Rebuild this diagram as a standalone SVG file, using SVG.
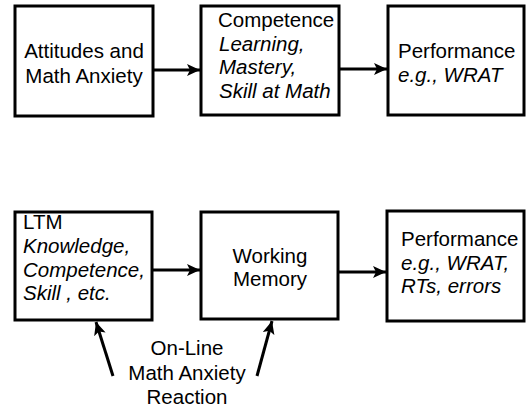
<svg xmlns="http://www.w3.org/2000/svg" width="526" height="408" viewBox="0 0 526 408">
<style>
.box{fill:#fff;stroke:#000;stroke-width:3}
.t{font-family:"Liberation Sans",Arial,sans-serif;font-size:20.5px;fill:#000}
.i{font-style:italic}
.c{text-anchor:middle}
.ln{stroke:#000;stroke-width:3;fill:none}
</style>
<defs>
<marker id="ah" markerUnits="userSpaceOnUse" markerWidth="14" markerHeight="12" refX="13" refY="6" orient="auto">
<polygon points="0,0 13,6 0,12 3,6" fill="#000"/>
</marker>
</defs>
<rect width="526" height="408" fill="#fff"/>
<g id="connectors">
<line class="ln" x1="153" y1="70" x2="200" y2="70" marker-end="url(#ah)"/>
<line class="ln" x1="339" y1="69" x2="387" y2="69" marker-end="url(#ah)"/>
<line class="ln" x1="152" y1="270" x2="200" y2="270" marker-end="url(#ah)"/>
<line class="ln" x1="338" y1="272" x2="386" y2="272" marker-end="url(#ah)"/>
<line class="ln" x1="113" y1="376" x2="96" y2="322" marker-end="url(#ah)"/>
<line class="ln" x1="257" y1="376" x2="272" y2="321" marker-end="url(#ah)"/>
</g>
<g id="attitudes">
<rect class="box" x="15" y="6" width="138" height="110"/>
<text class="t c" x="84" y="58">Attitudes and</text>
<text class="t c" x="84" y="83">Math Anxiety</text>
</g>
<g id="competence">
<rect class="box" x="201" y="6" width="138" height="109"/>
<text class="t" x="218" y="27">Competence</text>
<text class="t i" x="219" y="50.7">Learning,</text>
<text class="t i" x="219" y="74.3">Mastery,</text>
<text class="t i" x="219" y="98">Skill at Math</text>
</g>
<g id="performance1">
<rect class="box" x="388" y="6" width="136" height="109"/>
<text class="t" x="398" y="58">Performance</text>
<text class="t i" x="398" y="82">e.g., WRAT</text>
</g>
<g id="ltm">
<rect class="box" x="15" y="212" width="137" height="108"/>
<text class="t" x="23" y="229">LTM</text>
<text class="t i" x="23" y="253">Knowledge,</text>
<text class="t i" x="23" y="277">Competence,</text>
<text class="t i" x="23" y="300">Skill , etc.</text>
</g>
<g id="working-memory">
<rect class="box" x="201" y="212" width="137" height="107"/>
<text class="t c" x="270" y="263">Working</text>
<text class="t c" x="270" y="286">Memory</text>
</g>
<g id="performance2">
<rect class="box" x="387" y="211" width="137" height="110"/>
<text class="t" x="401" y="246">Performance</text>
<text class="t i" x="401" y="270">e.g., WRAT,</text>
<text class="t i" x="401" y="293">RTs, errors</text>
</g>
<g id="reaction-label">
<text class="t c" x="187" y="355">On-Line</text>
<text class="t c" x="187" y="380">Math Anxiety</text>
<text class="t c" x="187" y="404">Reaction</text>
</g>
</svg>
